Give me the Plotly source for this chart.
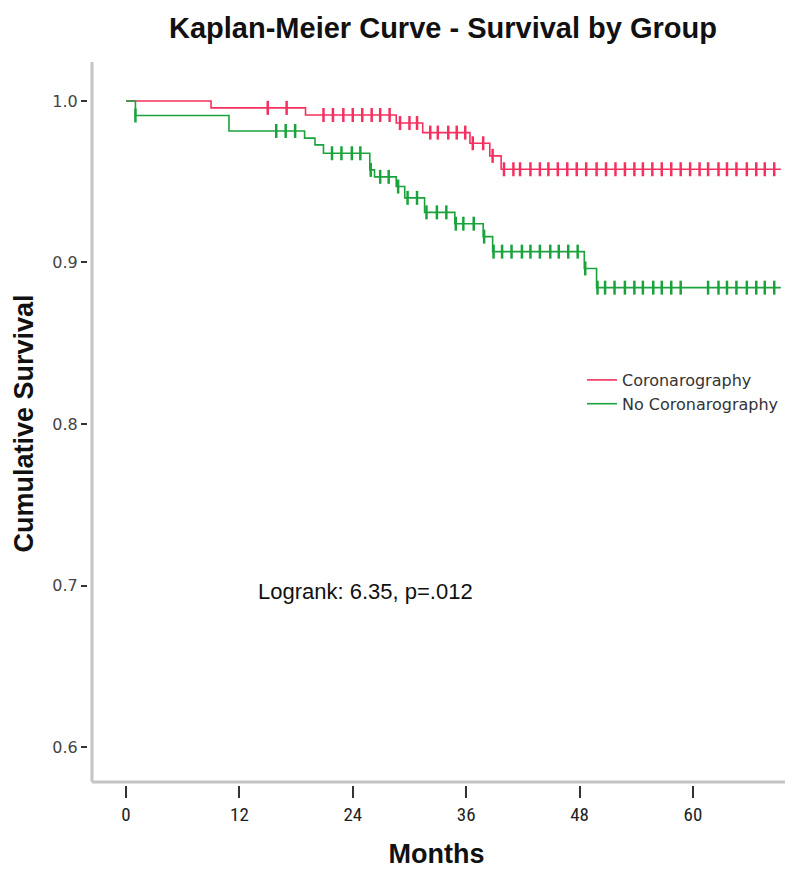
import numpy as np
import plotly.graph_objects as go

# ---- data ----
red_name = "Coronarography"
red_times = [0, 9, 19, 28.6, 31.4, 36.4, 38.5, 39.7, 69.3]
red_surv = [1.0, 0.9957, 0.9913, 0.9863, 0.9804, 0.9738, 0.966, 0.9577, 0.9577]
red_censor = [15, 17, 20.9, 21.9, 23, 24, 25, 26, 26.9, 27.9, 29, 30, 30.8,
              32.2, 33, 34.1, 35, 35.9, 36.7, 37.8, 38.8, 40, 41, 41.7, 42.8,
              43.8, 44.7, 45.7, 46.7, 47.7, 48.7, 49.8, 50.8, 51.8, 52.8, 53.8,
              54.7, 55.7, 56.7, 57.7, 58.7, 59.7, 60.7, 61.6, 62.7, 63.6, 64.6,
              65.7, 66.7, 67.6, 68.6]

green_name = "No Coronarography"
green_times = [0, 1, 10.9, 18.9, 20, 20.9, 25.8, 26.3, 28.6, 29.5, 31.6, 34.8,
               37.8, 38.8, 48.5, 49.8, 69.3]
green_surv = [1.0, 0.991, 0.9814, 0.977, 0.9728, 0.9676, 0.9573, 0.953, 0.947,
              0.940, 0.931, 0.924, 0.916, 0.9067, 0.8963, 0.8844, 0.8844]
green_censor = [1, 15.9, 16.9, 17.9, 21.8, 22.8, 23.9, 24.8, 25.9, 26.9, 27.8,
                28.8, 29.8, 30.8, 31.8, 32.9, 33.9, 34.9, 35.7, 36.8, 37.9, 38.9,
                39.8, 40.8, 41.9, 42.8, 43.8, 44.9, 45.8, 46.8, 47.8, 48.6, 49.9,
                50.7, 51.7, 52.8, 53.8, 54.7, 55.8, 56.7, 57.7, 58.7, 61.6, 62.7,
                63.6, 64.6, 65.7, 66.7, 67.6, 68.6]

x_ticks = [0, 12, 24, 36, 48, 60]
y_ticks = [0.6, 0.7, 0.8, 0.9, 1.0]
y_tick_labels = ["0.6", "0.7", "0.8", "0.9", "1.0"]
annotation_text = "Logrank: 6.35, p=.012"
title_text = "Kaplan-Meier Curve - Survival by Group"

RED = "#F5305F"
GREEN = "#1AA33C"


def surv_at(times, surv, t):
    idx = np.searchsorted(np.array(times), np.array(t), side="right") - 1
    return list(np.array(surv)[idx])


fig = go.Figure()
for name, times, surv, cens, col in [
    (red_name, red_times, red_surv, red_censor, RED),
    (green_name, green_times, green_surv, green_censor, GREEN),
]:
    fig.add_trace(go.Scatter(x=times, y=surv, mode="lines", name=name,
                             line=dict(color=col, width=1.6, shape="hv"),
                             hoverinfo="skip"))
    fig.add_trace(go.Scatter(x=cens, y=surv_at(times, surv, cens), mode="markers",
                             showlegend=False,
                             marker=dict(symbol="line-ns-open", size=10, color=col,
                                         line=dict(color=col, width=2.5))))

W, H = 800, 869
ml, mr, mt, mb = 88, 15, 62, 84
pw, ph = W - ml - mr, H - mt - mb
ax_col = "#c4c4c4"
dx = 4 / pw
dy = 3 / ph
fig.add_shape(type="line", xref="paper", yref="paper", x0=dx, x1=dx, y0=dy, y1=1.0,
              line=dict(color=ax_col, width=3))
fig.add_shape(type="line", xref="paper", yref="paper", x0=dx, x1=1.0, y0=dy, y1=dy,
              line=dict(color=ax_col, width=3))

fig.add_annotation(text=annotation_text, xref="paper", yref="paper",
                   x=(365 - ml) / pw, y=(H - mb - 591) / ph,
                   showarrow=False, xanchor="center", yanchor="middle",
                   font=dict(family="Liberation Sans, Arial", size=22, color="#111"))

fig.update_layout(
    width=W, height=H,
    margin=dict(l=ml, r=mr, t=mt, b=mb),
    paper_bgcolor="white", plot_bgcolor="white",
    title=dict(text=title_text, x=443 / W, xanchor="center", y=1 - 28 / H,
               yanchor="middle",
               font=dict(family="Liberation Sans, Arial", size=29, color="#111",
                         weight="bold")),
    showlegend=True,
    legend=dict(x=(582 - ml) / pw, y=(H - mb - 363) / ph, xanchor="left",
                yanchor="top", bgcolor="rgba(0,0,0,0)", tracegroupgap=0,
                font=dict(family="DejaVu Sans", size=16, color="#333")),
    xaxis=dict(range=[-4.02, 69.74], tickvals=x_ticks, ticks="outside",
               ticklen=12, tickwidth=2, tickcolor="#333", showline=False,
               showgrid=False, zeroline=False, automargin=False,
               tickfont=dict(family="Liberation Sans Narrow, Roboto Condensed, Liberation Sans",
                             size=19, color="#222"),
               title=dict(text="Months", standoff=20,
                          font=dict(family="Liberation Sans, Arial", size=27,
                                    color="#111", weight="bold"))),
    yaxis=dict(range=[0.5765, 1.0241], tickvals=y_ticks, ticktext=y_tick_labels,
               ticks="outside", ticklen=6, tickwidth=2, tickcolor="#333",
               showline=False, showgrid=False, zeroline=False, automargin=False,
               tickfont=dict(family="DejaVu Sans", size=16, color="#444"),
               title=dict(text="Cumulative Survival", standoff=10,
                          font=dict(family="Liberation Sans, Arial", size=27,
                                    color="#111", weight="bold"))),
)

fig.write_html("out.html", config={"displayModeBar": False},
               post_script="document.body.style.margin='0';")
